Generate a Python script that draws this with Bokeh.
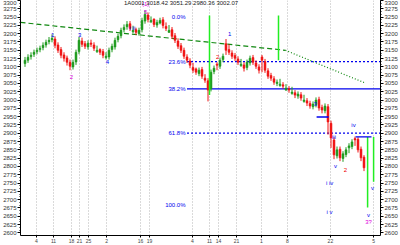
from bokeh.plotting import figure
from bokeh.models import Range1d, LinearAxis, FixedTicker, SingleIntervalTicker, Label, ColumnDataSource
from bokeh.embed import file_html
from bokeh.resources import INLINE
from bokeh.core.properties import value

# ---- daily OHLC ----
opens = [3110, 3120, 3131, 3138, 3146, 3152, 3158, 3166, 3176, 3182,
         3184, 3166, 3152, 3136, 3127, 3114, 3100, 3115, 3146, 3178,
         3170, 3160, 3172, 3166, 3146, 3152, 3146, 3128, 3130, 3152,
         3160, 3182, 3194, 3212, 3221, 3230, 3206, 3212, 3200, 3212,
         3238, 3256, 3236, 3244, 3226, 3232, 3242, 3222, 3204, 3212,
         3194, 3178, 3164, 3150, 3130, 3118, 3098, 3094, 3080, 3092,
         3066, 3058, 3034, 3086, 3108, 3102, 3122, 3170, 3152, 3142,
         3134, 3124, 3104, 3106, 3098, 3112, 3128, 3112, 3100, 3130,
         3116, 3088, 3074, 3064, 3050, 3044, 3046, 3030, 3034, 3020,
         3022, 3012, 3016, 2996, 2998, 2990, 2980, 2986, 3002, 2978,
         2968, 2980, 2930, 2880, 2832, 2852, 2824, 2836, 2856, 2860,
         2884, 2882, 2852, 2828]
closes = [3120, 3129, 3135, 3144, 3150, 3156, 3165, 3174, 3180, 3186,
          3165, 3150, 3135, 3126, 3114, 3102, 3114, 3144, 3180, 3168,
          3162, 3171, 3168, 3156, 3150, 3144, 3135, 3132, 3150, 3162,
          3180, 3192, 3210, 3219, 3228, 3216, 3210, 3204, 3210, 3240,
          3258, 3243, 3240, 3228, 3234, 3240, 3225, 3216, 3210, 3192,
          3180, 3162, 3150, 3132, 3120, 3105, 3090, 3084, 3090, 3072,
          3060, 3030, 3084, 3096, 3105, 3120, 3132, 3150, 3144, 3132,
          3126, 3114, 3108, 3096, 3114, 3126, 3114, 3102, 3090, 3120,
          3090, 3072, 3066, 3054, 3054, 3048, 3042, 3036, 3030, 3024,
          3015, 3018, 3006, 3000, 2991, 2982, 2988, 3000, 2976, 2970,
          2982, 2934, 2886, 2835, 2850, 2826, 2838, 2850, 2862, 2874,
          2880, 2850, 2826, 2796]
highs = [3130, 3138, 3144, 3152, 3158, 3164, 3174, 3182, 3190, 3198,
         3192, 3174, 3160, 3144, 3134, 3122, 3122, 3152, 3190, 3188,
         3178, 3180, 3182, 3174, 3164, 3156, 3154, 3144, 3158, 3170,
         3188, 3200, 3218, 3228, 3238, 3238, 3224, 3218, 3218, 3248,
         3270, 3264, 3252, 3246, 3242, 3248, 3250, 3234, 3226, 3220,
         3202, 3186, 3172, 3158, 3138, 3126, 3112, 3098, 3098, 3100,
         3078, 3066, 3092, 3104, 3114, 3128, 3140, 3184, 3168, 3150,
         3142, 3132, 3124, 3114, 3122, 3134, 3136, 3120, 3108, 3136,
         3124, 3096, 3082, 3072, 3062, 3064, 3054, 3048, 3042, 3040,
         3030, 3026, 3024, 3016, 3006, 2998, 2996, 3008, 3010, 2986,
         2990, 2988, 2938, 2888, 2860, 2860, 2846, 2858, 2870, 2882,
         2890, 2888, 2860, 2834]
lows = [3100, 3112, 3122, 3130, 3138, 3144, 3150, 3158, 3168, 3174,
        3156, 3142, 3126, 3116, 3104, 3090, 3092, 3106, 3138, 3160,
        3154, 3152, 3160, 3148, 3142, 3136, 3126, 3122, 3122, 3144,
        3152, 3174, 3186, 3204, 3212, 3208, 3202, 3196, 3194, 3204,
        3230, 3234, 3232, 3220, 3218, 3228, 3216, 3208, 3202, 3184,
        3172, 3154, 3142, 3124, 3112, 3096, 3082, 3076, 3072, 3064,
        3052, 2996, 3026, 3078, 3090, 3094, 3114, 3136, 3136, 3124,
        3118, 3106, 3100, 3086, 3090, 3104, 3106, 3094, 3080, 3084,
        3082, 3064, 3058, 3046, 3042, 3040, 3034, 3028, 3022, 3016,
        3006, 3004, 2998, 2992, 2982, 2974, 2972, 2978, 2968, 2960,
        2960, 2896, 2856, 2822, 2824, 2816, 2814, 2828, 2840, 2852,
        2862, 2842, 2816, 2786]

# Fibonacci retracement
fib_high = 3249
fib_low = 2685
fib_names = ["0.0%", "23.6%", "38.2%", "61.8%", "100.0%"]
fib_ratios = [0.0, 0.236, 0.382, 0.618, 1.0]
fib_drawn = [False, True, True, True, False]
fib_dash = ["solid", "2 2", "solid", "2 2", "solid"]
fib_start = 54

# trend lines (bar index, price)
trend1_x = [-1.5, 86.8]
trend1_y = [3234, 3150]
trend2_x = [86.8, 113.5]
trend2_y = [3150, 3051]

# bright green vertical markers
vmark_x = [61.5, 84.5, 114.2, 116.2]
vmark_top = [3255, 3255, 2889, 2889]
vmark_bot = [3015, 3120, 2676, 2754]

# blue horizontal marks
hmark_x0 = [97.2, 110.2]
hmark_x1 = [101.2, 115.5]
hmark_y = [2949, 2889]

# wave labels
wave_x = [9.2, 15.5, 18.2, 27.5, 35.8, 40.2, 40.2, 64.2, 68.2, 96.8,
          103.0, 109.5, 103.5, 106.8, 101.8, 101.8, 115.8, 114.5, 114.5]
wave_y = [3195, 3069, 3195, 3114, 3216, 3288, 3266, 3129, 3198, 2988,
          2889, 2925, 2802, 2790, 2751, 2664, 2736, 2655, 2634]
wave_t = ["1", "2", "3", "4", "i ii", "(1)", "5", "2", "1", "3",
          "iii", "iv", "v", "2", "i  iv", "i  v", "v", "v", "3?"]
wave_c = ["#0000ee", "#dd00dd", "#0000ee", "#0000ee", "#0000ee", "#dd00dd", "#dd00dd",
          "#ee0000", "#0000ee", "#0000ee", "#0000ee", "#0000ee", "#0000ee", "#ee0000",
          "#0000ee", "#0000ee", "#0000ee", "#0000ee", "#dd00dd"]

# x grid / ticks
grid_x = [3.8, 9.5, 15.5, 18.2, 21.2, 27.2, 38.5, 41.5, 55.8, 61.5,
          64.5, 70.5, 78.8, 87.5, 101.8, 116.2]
x_tick_labels = ["4", "11", "18", "21", "25", "2", "16", "19", "4", "11",
                 "14", "21", "1", "8", "22", "5"]

title_text = "1A0001  3018.42  3051.29  2980.36  3002.07"

UP = "#1f9a1f"
DOWN = "#f01414"
FONT = "Liberation Sans"

idx = list(range(len(closes)))
colors = [UP if c >= o else DOWN for o, c in zip(opens, closes)]
tops = [max(o, c) for o, c in zip(opens, closes)]
bots = [min(o, c) for o, c in zip(opens, closes)]
src = ColumnDataSource(dict(x=idx, o=opens, c=closes, h=highs, l=lows,
                            top=tops, bot=bots, col=colors))

p = figure(width=400, height=245, x_range=Range1d(-1.5, 118.5),
           y_range=Range1d(2592, 3300), output_backend="svg",
           toolbar_location=None, min_border_left=20, min_border_right=20,
           min_border_top=0, min_border_bottom=9)
p.outline_line_color = None
p.background_fill_color = "white"
p.ygrid.visible = False
p.xgrid.ticker = FixedTicker(ticks=grid_x)
p.xgrid.grid_line_color = "#b4b4b4"
p.xgrid.grid_line_dash = "1 2"

# axes
p.yaxis.ticker = SingleIntervalTicker(interval=25, num_minor_ticks=3)
r_ax = LinearAxis(ticker=SingleIntervalTicker(interval=25, num_minor_ticks=3))
p.add_layout(r_ax, "right")
for ax in [p.yaxis[0], r_ax]:
    ax.major_label_text_font_size = "6px"
    ax.major_label_text_font = FONT
    ax.major_label_standoff = 1
    ax.major_tick_out = 3
    ax.major_tick_in = 0
    ax.minor_tick_out = 1
    ax.minor_tick_in = 0
    ax.axis_line_color = "black"
    ax.major_label_text_color = "#333333"
p.xaxis.ticker = FixedTicker(ticks=grid_x)
p.xaxis.major_label_overrides = {t: l for t, l in zip(grid_x, x_tick_labels)}
p.xaxis.major_label_text_font_size = "5px"
p.xaxis.major_label_text_font = FONT
p.xaxis.major_label_standoff = 1
p.xaxis.major_tick_out = 2
p.xaxis.major_tick_in = 0
p.xaxis.minor_tick_line_color = None

# trend lines
p.line(trend1_x, trend1_y, line_color="#118811", line_width=1.2, line_dash="5 3")
p.line(trend2_x, trend2_y, line_color="#118811", line_width=1.2, line_dash="1 2")

# fib levels
fib_vals = [fib_high - r * (fib_high - fib_low) for r in fib_ratios]
for name, v, drawn, dash in zip(fib_names, fib_vals, fib_drawn, fib_dash):
    if drawn:
        p.segment(x0=fib_start, y0=v, x1=118.5, y1=v, line_color="#0000ee",
                  line_width=1.2, line_dash=dash)
p.text(x=[fib_start - 0.5] * len(fib_vals), y=fib_vals, text=fib_names,
       text_font=value(FONT), text_font_size="6px", text_color="#0000ee",
       text_align="right", text_baseline="middle")

# candles
p.segment(x0="x", y0="h", x1="x", y1="l", line_color="col", line_width=1, source=src)
p.vbar(x="x", top="top", bottom="bot", width=0.62, fill_color="col",
       line_color="col", line_width=0.6, source=src)

# markers
p.segment(x0=vmark_x, y0=vmark_top, x1=vmark_x, y1=vmark_bot,
          line_color="#22ee22", line_width=1.5)
p.segment(x0=hmark_x0, y0=hmark_y, x1=hmark_x1, y1=hmark_y,
          line_color="#0000ee", line_width=1.3)

# wave labels
p.text(x=wave_x, y=wave_y, text=wave_t, text_color=wave_c,
       text_font=value(FONT), text_font_size="6px", text_align="center",
       text_baseline="middle")

p.add_layout(Label(x=33, y=3291, text=title_text, text_font=FONT,
                   text_font_size="6px", text_color="#222222",
                   text_baseline="middle"))

open("out.html", "w").write(file_html(p, INLINE))
